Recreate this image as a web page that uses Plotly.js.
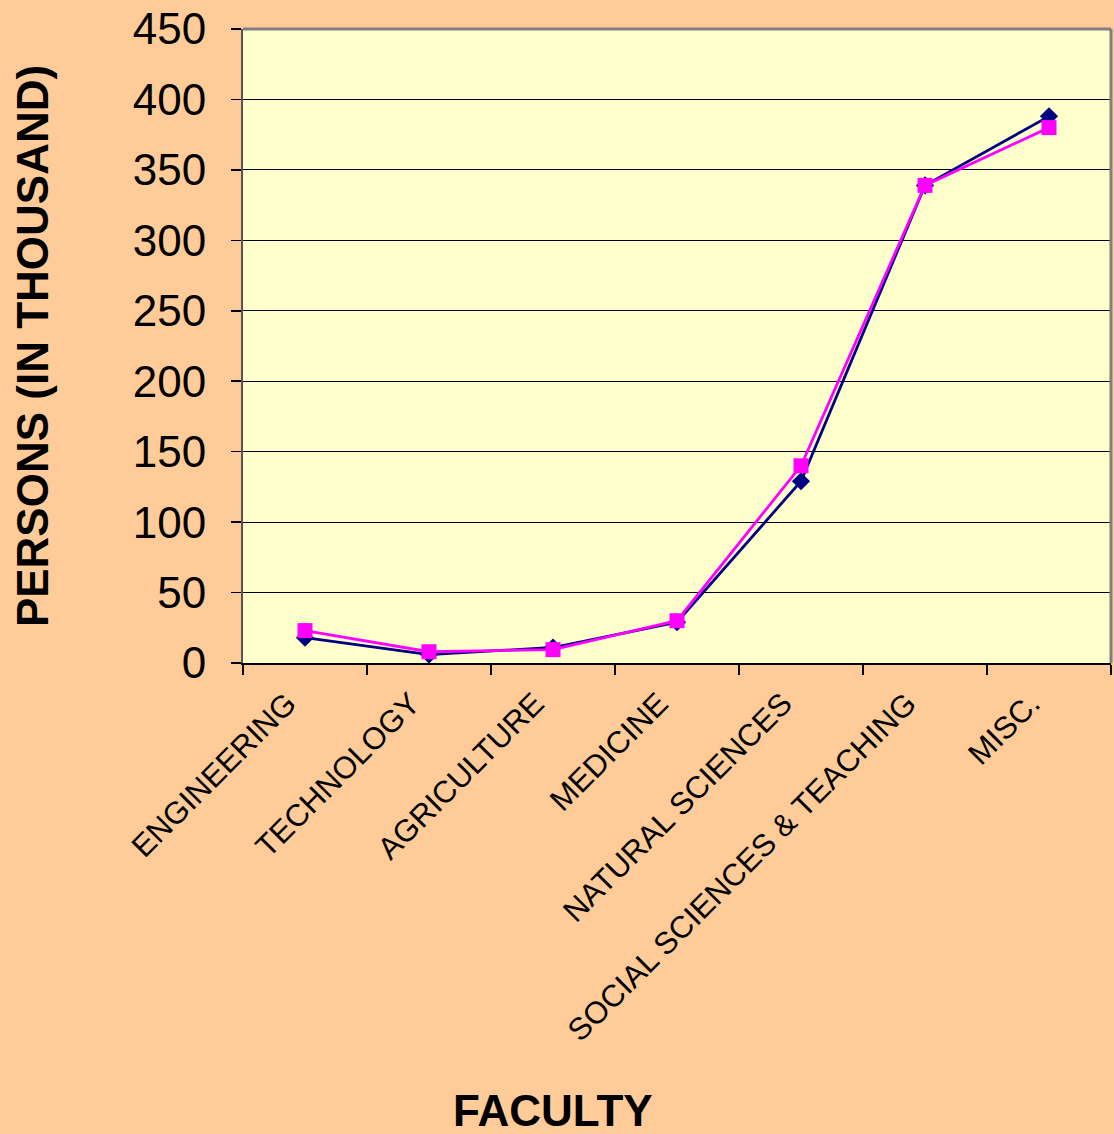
<!DOCTYPE html>
<html>
<head>
<meta charset="utf-8">
<script src="https://cdn.plot.ly/plotly-3.0.1.min.js"></script>
<style>html,body{margin:0;padding:0;background:#FFCC99;}#chart{width:1114px;height:1134px;}</style>
</head>
<body>
<div id="chart"></div>
<script>
const faculties = ["ENGINEERING", "TECHNOLOGY", "AGRICULTURE", "MEDICINE", "NATURAL SCIENCES", "SOCIAL SCIENCES & TEACHING", "MISC."];
const seriesA = [18, 6, 11, 29, 129, 339, 388];
const seriesB = [23, 8, 9.5, 30, 140, 339, 380];
const yTicks = [0, 50, 100, 150, 200, 250, 300, 350, 400, 450];

const traces = [
  {x: faculties, y: seriesA, type: 'scatter', mode: 'lines+markers',
   line: {color: '#000080', width: 2.8}, marker: {symbol: 'diamond', size: 14, color: '#000080'}},
  {x: faculties, y: seriesB, type: 'scatter', mode: 'lines+markers',
   line: {color: '#FF00FF', width: 2.8}, marker: {symbol: 'square', size: 15, color: '#FF00FF'}}
];

const layout = {
  width: 1114, height: 1134,
  paper_bgcolor: '#FFCC99', plot_bgcolor: '#FFFFCC',
  margin: {l: 243, r: 3, t: 29, b: 471},
  showlegend: false,
  font: {family: 'Liberation Sans, Arial, sans-serif', color: '#000000'},
  xaxis: {
    type: 'category', range: [-0.5, 6.5], tickangle: -45,
    tickson: 'boundaries', ticks: 'outside', ticklen: 10, tickcolor: '#000', tickwidth: 1.5,
    showline: true, linecolor: '#000', linewidth: 2, showgrid: false,
    ticklabelshift: -18, ticklabelstandoff: 8,
    tickfont: {size: 31, family: 'Liberation Sans, Arial, sans-serif'}, automargin: false
  },
  yaxis: {
    range: [0, 450], tickvals: yTicks, ticktext: yTicks.map(String),
    ticks: 'outside', ticklen: 10, tickcolor: '#000', tickwidth: 1.5,
    showline: true, linecolor: '#555', linewidth: 2,
    showgrid: true, gridcolor: '#000', gridwidth: 1, zeroline: false,
    ticklabelstandoff: 16,
    tickfont: {size: 44, family: 'Liberation Sans, Arial, sans-serif'}, automargin: false,
    title: {text: '<b>PERSONS (IN THOUSAND)</b>', font: {size: 44, family: 'Liberation Sans, Arial, sans-serif'}, standoff: 70}
  },
  shapes: [
    {type: 'line', xref: 'paper', yref: 'paper', x0: 0, x1: 1, y0: 1, y1: 1, line: {color: '#808080', width: 3}},
    {type: 'line', xref: 'paper', yref: 'paper', x0: 1, x1: 1, y0: 0, y1: 1, line: {color: '#808080', width: 3}}
  ],
  annotations: [
    {text: '<b>FACULTY</b>', xref: 'paper', yref: 'paper', x: (553 - 243) / 868, y: -(1110 - 663) / 634,
     xanchor: 'center', yanchor: 'middle', showarrow: false,
     font: {size: 44, family: 'Liberation Sans, Arial, sans-serif', color: '#000'}}
  ]
};

Plotly.newPlot('chart', traces, layout, {displayModeBar: false, staticPlot: true});
</script>
</body>
</html>
